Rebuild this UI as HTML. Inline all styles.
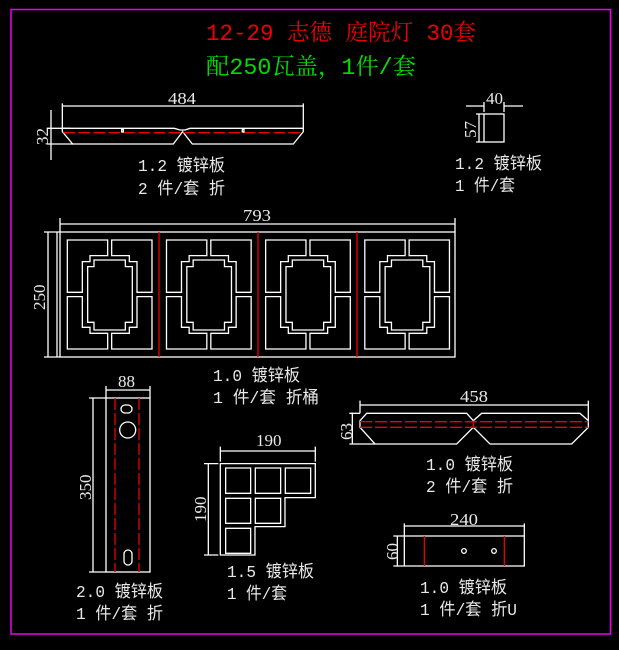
<!DOCTYPE html>
<html><head><meta charset="utf-8"><style>
html,body{margin:0;padding:0;background:#000;}
svg{display:block}
.t{fill:#e8e8e8;font-family:"Liberation Mono","Noto Sans CJK SC",monospace;font-size:17px}
.d{fill:#e8e8e8;font-family:"Liberation Serif","Noto Serif CJK SC",serif;font-size:17px}
.w{stroke:#fff;stroke-width:1.3;fill:none}
.ws{stroke:#fff;stroke-width:1.3;fill:none;vector-effect:non-scaling-stroke}
.r{stroke:#e00;stroke-width:1.3;fill:none;vector-effect:non-scaling-stroke}
.rd{stroke:#e00;stroke-width:1.3;fill:none;stroke-dasharray:12 3;vector-effect:non-scaling-stroke}
</style></head><body>
<svg width="619" height="650" viewBox="0 0 619 650" xmlns="http://www.w3.org/2000/svg">
<rect x="0" y="0" width="619" height="650" fill="#000"/>
<rect x="11" y="9.5" width="599.5" height="624.5" fill="none" stroke="#e0e" stroke-width="1.5"/>

<text x="206" y="40" fill="#e00" font-family="Liberation Mono,'Noto Serif CJK SC',monospace" font-size="23" textLength="270" lengthAdjust="spacingAndGlyphs">12-29 志德 庭院灯 30套</text>
<text x="206" y="74" fill="#0d0" font-family="Liberation Mono,'Noto Serif CJK SC',monospace" font-size="23" textLength="210" lengthAdjust="spacingAndGlyphs">配250瓦盖，1件/套</text>

<!-- part 1 -->
<g transform="translate(30,80) scale(0.3333)">
<path class="ws" d="M97,70V150 M820,70V150 M97,78H820 M50,145H120 M50,192H130 M63,90V240"/>
<path class="ws" d="M97,145H433L450,150H465L480,145H820V155L790,192H487L458,155L430,192H128L97,155Z"/>
<path class="rd" d="M100,158H818"/>
<rect x="275" y="148" width="5" height="8" class="ws"/><rect x="637" y="148" width="5" height="8" class="ws"/>
</g>
<text class="d" x="168" y="104" textLength="28" lengthAdjust="spacingAndGlyphs">484</text>
<text class="d" transform="translate(48,145) rotate(-90)">32</text>
<text class="t" x="138" y="171" textLength="87" lengthAdjust="spacingAndGlyphs">1.2 镀锌板</text>
<text class="t" x="138" y="194" textLength="87" lengthAdjust="spacingAndGlyphs">2 件/套 折</text>

<!-- part 2 -->
<rect x="484" y="114" width="20" height="28" class="w"/>
<path class="w" d="M466,106H484M504,106H523M484,102V112M504,102V112M476,114H484M476,142H484M479,114V142"/>
<text class="d" x="486" y="104">40</text>
<text class="d" transform="translate(476,138) rotate(-90)">57</text>
<text class="t" x="455" y="169" textLength="87" lengthAdjust="spacingAndGlyphs">1.2 镀锌板</text>
<text class="t" x="455" y="191" textLength="60" lengthAdjust="spacingAndGlyphs">1 件/套</text>

<!-- part 3 -->
<path class="w" d="M60,224H455M60,218V232M455,218V232M44,232H60M44,357H60M48,232V357"/>
<text class="d" x="243" y="221" textLength="28" lengthAdjust="spacingAndGlyphs">793</text>
<text class="d" transform="translate(45,310) rotate(-90)">250</text>
<rect x="60" y="232" width="395" height="125" class="w"/>
<path class="w" d="M57,232V357"/>
<defs>
<g id="pan">
<path class="ws" d="M82,120H203V167H150V185H127V277H82Z"/>
<path class="ws" d="M336,120H215V167H268V185H291V277H336Z"/>
<path class="ws" d="M82,447H203V400H150V382H127V290H82Z"/>
<path class="ws" d="M336,447H215V400H268V382H291V290H336Z"/>
<path class="ws" d="M162,180H256V200H277V367H256V390H162V367H143V200H162Z"/>
</g>
</defs>
<g transform="translate(40,200) scale(0.3333)">
<use href="#pan"/>
<use href="#pan" x="297.5"/>
<use href="#pan" x="595"/>
<use href="#pan" x="892.5"/>
</g>
<path class="r" d="M159,232V357M258,232V357M357,232V357"/>
<text class="t" x="213" y="381" textLength="87" lengthAdjust="spacingAndGlyphs">1.0 镀锌板</text>
<text class="t" x="213" y="403" textLength="106" lengthAdjust="spacingAndGlyphs">1 件/套 折桶</text>

<!-- part 4 -->
<rect x="106" y="398" width="44" height="174" class="w"/>
<path class="rd" d="M115,398V572M139,398V572"/>
<path class="w" d="M106,386V398M150,386V398M106,390H150M89,398H106M89,572H106M93,398V572"/>
<rect x="121" y="405" width="11" height="8" rx="4" class="w"/>
<circle cx="127.7" cy="430" r="8" class="w"/>
<rect x="124" y="550" width="8" height="15" rx="4" class="w"/>
<text class="d" x="118" y="387">88</text>
<text class="d" transform="translate(91,500) rotate(-90)">350</text>
<text class="t" x="76" y="597" textLength="87" lengthAdjust="spacingAndGlyphs">2.0 镀锌板</text>
<text class="t" x="76" y="619" textLength="87" lengthAdjust="spacingAndGlyphs">1 件/套 折</text>

<!-- part 5 -->
<g transform="translate(60,370) scale(0.3333)">
<path class="ws" d="M481,281H766V383H675V470H585V555H481Z"/>
<rect class="ws" x="497" y="294" width="75" height="76"/>
<rect class="ws" x="586" y="294" width="76" height="76"/>
<rect class="ws" x="676" y="294" width="76" height="76"/>
<rect class="ws" x="497" y="385" width="75" height="75"/>
<rect class="ws" x="586" y="385" width="76" height="75"/>
<rect class="ws" x="497" y="475" width="75" height="75"/>
<path class="ws" d="M481,230V275M766,230V275M481,243H766M432,281H475M432,555H475M445,281V555"/>
</g>
<text class="d" x="256" y="446" font-size="14">190</text>
<text class="d" transform="translate(206,522) rotate(-90)" font-size="14">190</text>
<text class="t" x="227" y="577" textLength="87" lengthAdjust="spacingAndGlyphs">1.5 镀锌板</text>
<text class="t" x="227" y="599" textLength="60" lengthAdjust="spacingAndGlyphs">1 件/套</text>

<!-- part 6 -->
<g transform="translate(340,380) scale(0.3333)">
<path class="ws" d="M60,122L80,100H380L400,122L425,100H720L745,122V142L695,192H450L400,142L350,192H105L60,142Z"/>
<path class="rd" d="M60,125H745M60,142H745"/>
<path class="r" d="M400,122V142"/>
<path class="ws" d="M60,62V100M745,62V122M60,75H745M28,100H60M28,192H105M37,100V192"/>
<rect class="ws" x="193" y="468" width="360" height="90"/>
<path class="r" d="M253,468V558M493,468V558"/>
<circle class="ws" cx="372" cy="513" r="7"/><circle class="ws" cx="462" cy="513" r="7"/>
<path class="ws" d="M193,430V468M553,430V468M193,438H553M160,468H193M160,558H193M172,468V558"/>
</g>
<text class="d" x="460" y="402" textLength="28" lengthAdjust="spacingAndGlyphs">458</text>
<text class="d" transform="translate(352,440) rotate(-90)">63</text>
<text class="t" x="426" y="470" textLength="87" lengthAdjust="spacingAndGlyphs">1.0 镀锌板</text>
<text class="t" x="426" y="492" textLength="87" lengthAdjust="spacingAndGlyphs">2 件/套 折</text>
<text class="d" x="450" y="525" textLength="28" lengthAdjust="spacingAndGlyphs">240</text>
<text class="d" transform="translate(398,560) rotate(-90)">60</text>
<text class="t" x="420" y="593" textLength="87" lengthAdjust="spacingAndGlyphs">1.0 镀锌板</text>
<text class="t" x="420" y="615" textLength="97" lengthAdjust="spacingAndGlyphs">1 件/套 折U</text>
</svg>
</body></html>
